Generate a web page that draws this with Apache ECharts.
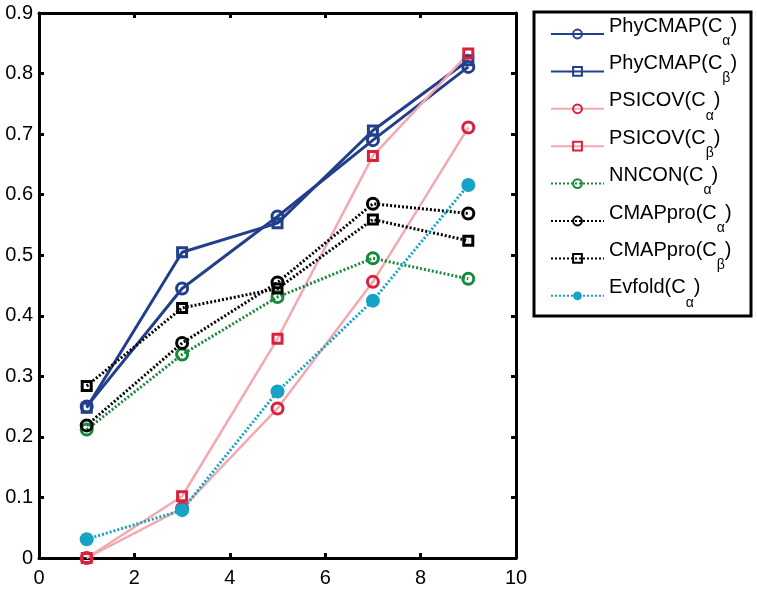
<!DOCTYPE html>
<html>
<head>
<meta charset="utf-8">
<script src="https://cdn.jsdelivr.net/npm/echarts@6/dist/echarts.min.js"></script>
<style>
  html, body { margin: 0; padding: 0; background: #fff; }
  #chart { width: 757px; height: 589px; }
</style>
</head>
<body>
<div id="chart"></div>
<script>
// x positions
var xs = [1, 3, 5, 7, 9];

// values
var phyCa   = [0.250, 0.445, 0.564, 0.690, 0.811];
var phyCb   = [0.248, 0.505, 0.553, 0.706, 0.822];
var psiCa   = [0.000, 0.082, 0.247, 0.456, 0.711];
var psiCb   = [0.000, 0.102, 0.362, 0.664, 0.833];
var nnCa    = [0.212, 0.336, 0.431, 0.495, 0.461];
var cmapCa  = [0.219, 0.355, 0.455, 0.585, 0.569];
var cmapCb  = [0.284, 0.413, 0.445, 0.559, 0.524];
var evCa    = [0.031, 0.079, 0.275, 0.425, 0.616];

var names = ['PhyCMAP(Cα)', 'PhyCMAP(Cβ)', 'PSICOV(Cα)', 'PSICOV(Cβ)',
             'NNCON(Cα)', 'CMAPpro(Cα)', 'CMAPpro(Cβ)', 'Evfold(Cα)'];

function pairs(v) {
    var out = [];
    for (var i = 0; i < xs.length; i++) out.push([xs[i], v[i]]);
    return out;
}

var FONT = 'Liberation Sans';
var blue = '#223f8c', pink = '#f4a9b1', red = '#d9203c',
    green = '#18883c', black = '#000000', cyan = '#16a3c6';

// hollow markers: transparent fill + thick border, filled ones: plain colour
function mk(name, data, lineColor, markColor, lineType, lw, symbol, size, filled) {
    return {
        name: name,
        type: 'line',
        data: pairs(data),
        symbol: symbol,
        symbolSize: size,
        showSymbol: true,
        lineStyle: { color: lineColor, width: lw, type: lineType },
        itemStyle: filled ? { color: markColor } : {
            color: 'rgba(255,255,255,0)',
            borderColor: markColor,
            borderWidth: 3
        },
        emphasis: { disabled: true },
        z: 3
    };
}

var series = [
    mk(names[0], phyCa, blue, blue, 'solid', 3, 'circle', 11),
    mk(names[1], phyCb, blue, blue, 'solid', 3, 'rect', 9),
    mk(names[2], psiCa, pink, red, 'solid', 2.5, 'circle', 11),
    mk(names[3], psiCb, pink, red, 'solid', 2.5, 'rect', 9),
    mk(names[4], nnCa, green, green, [2, 2], 3, 'circle', 11),
    mk(names[5], cmapCa, black, black, [2, 2], 3, 'circle', 11),
    mk(names[6], cmapCb, black, black, [2, 2], 3, 'rect', 9),
    mk(names[7], evCa, cyan, cyan, [2, 2], 3, 'circle', 14, true)
];

function legendFmt(n) {
    var i = n.indexOf('(C');
    var sub = n.charAt(i + 2);
    return '{m|' + n.substring(0, i + 2) + '}{s|' + sub + '}{m|)}';
}

var axisCommon = {
    min: 0,
    axisLine: { show: true, onZero: false, lineStyle: { color: '#000', width: 3 } },
    axisTick: { show: true, inside: true, length: 5, lineStyle: { color: '#000', width: 3 } },
    splitLine: { show: false }
};

var option = {
    backgroundColor: '#fff',
    animation: false,
    grid: { left: 39, top: 13, right: 241, bottom: 31 },
    xAxis: [
        Object.assign({}, axisCommon, {
            type: 'value', max: 10, interval: 2, position: 'bottom',
            axisLabel: { color: '#000', fontFamily: FONT, fontSize: 20, margin: 10 }
        }),
        Object.assign({}, axisCommon, {
            type: 'value', max: 10, interval: 2, position: 'top',
            axisLabel: { show: false }
        })
    ],
    yAxis: [
        Object.assign({}, axisCommon, {
            type: 'value', max: 0.9, interval: 0.1, position: 'left',
            axisLabel: { color: '#000', fontFamily: FONT, fontSize: 20, margin: 6,
                formatter: function (v) { return v === 0 ? '0' : v.toFixed(1); } }
        }),
        Object.assign({}, axisCommon, {
            type: 'value', max: 0.9, interval: 0.1, position: 'right',
            axisLabel: { show: false }
        })
    ],
    legend: {
        data: names,
        orient: 'vertical',
        left: 545,
        top: 11,
        itemWidth: 53,
        itemHeight: 11,
        itemGap: 5.4,
        selectedMode: false,
        formatter: legendFmt,
        textStyle: {
            color: '#000',
            fontFamily: FONT,
            rich: {
                m: { fontSize: 20, fontFamily: FONT, color: '#000', padding: [0, 0, 16, 0] },
                s: { fontSize: 14, fontFamily: FONT, color: '#000', padding: [14, 0, 0, 0] }
            }
        }
    },
    graphic: [{
        type: 'rect',
        shape: { x: 534, y: 12, width: 217, height: 304 },
        style: { fill: 'none', stroke: '#000', lineWidth: 3 },
        silent: true
    }],
    series: series
};

echarts.init(document.getElementById('chart')).setOption(option);
</script>
</body>
</html>
